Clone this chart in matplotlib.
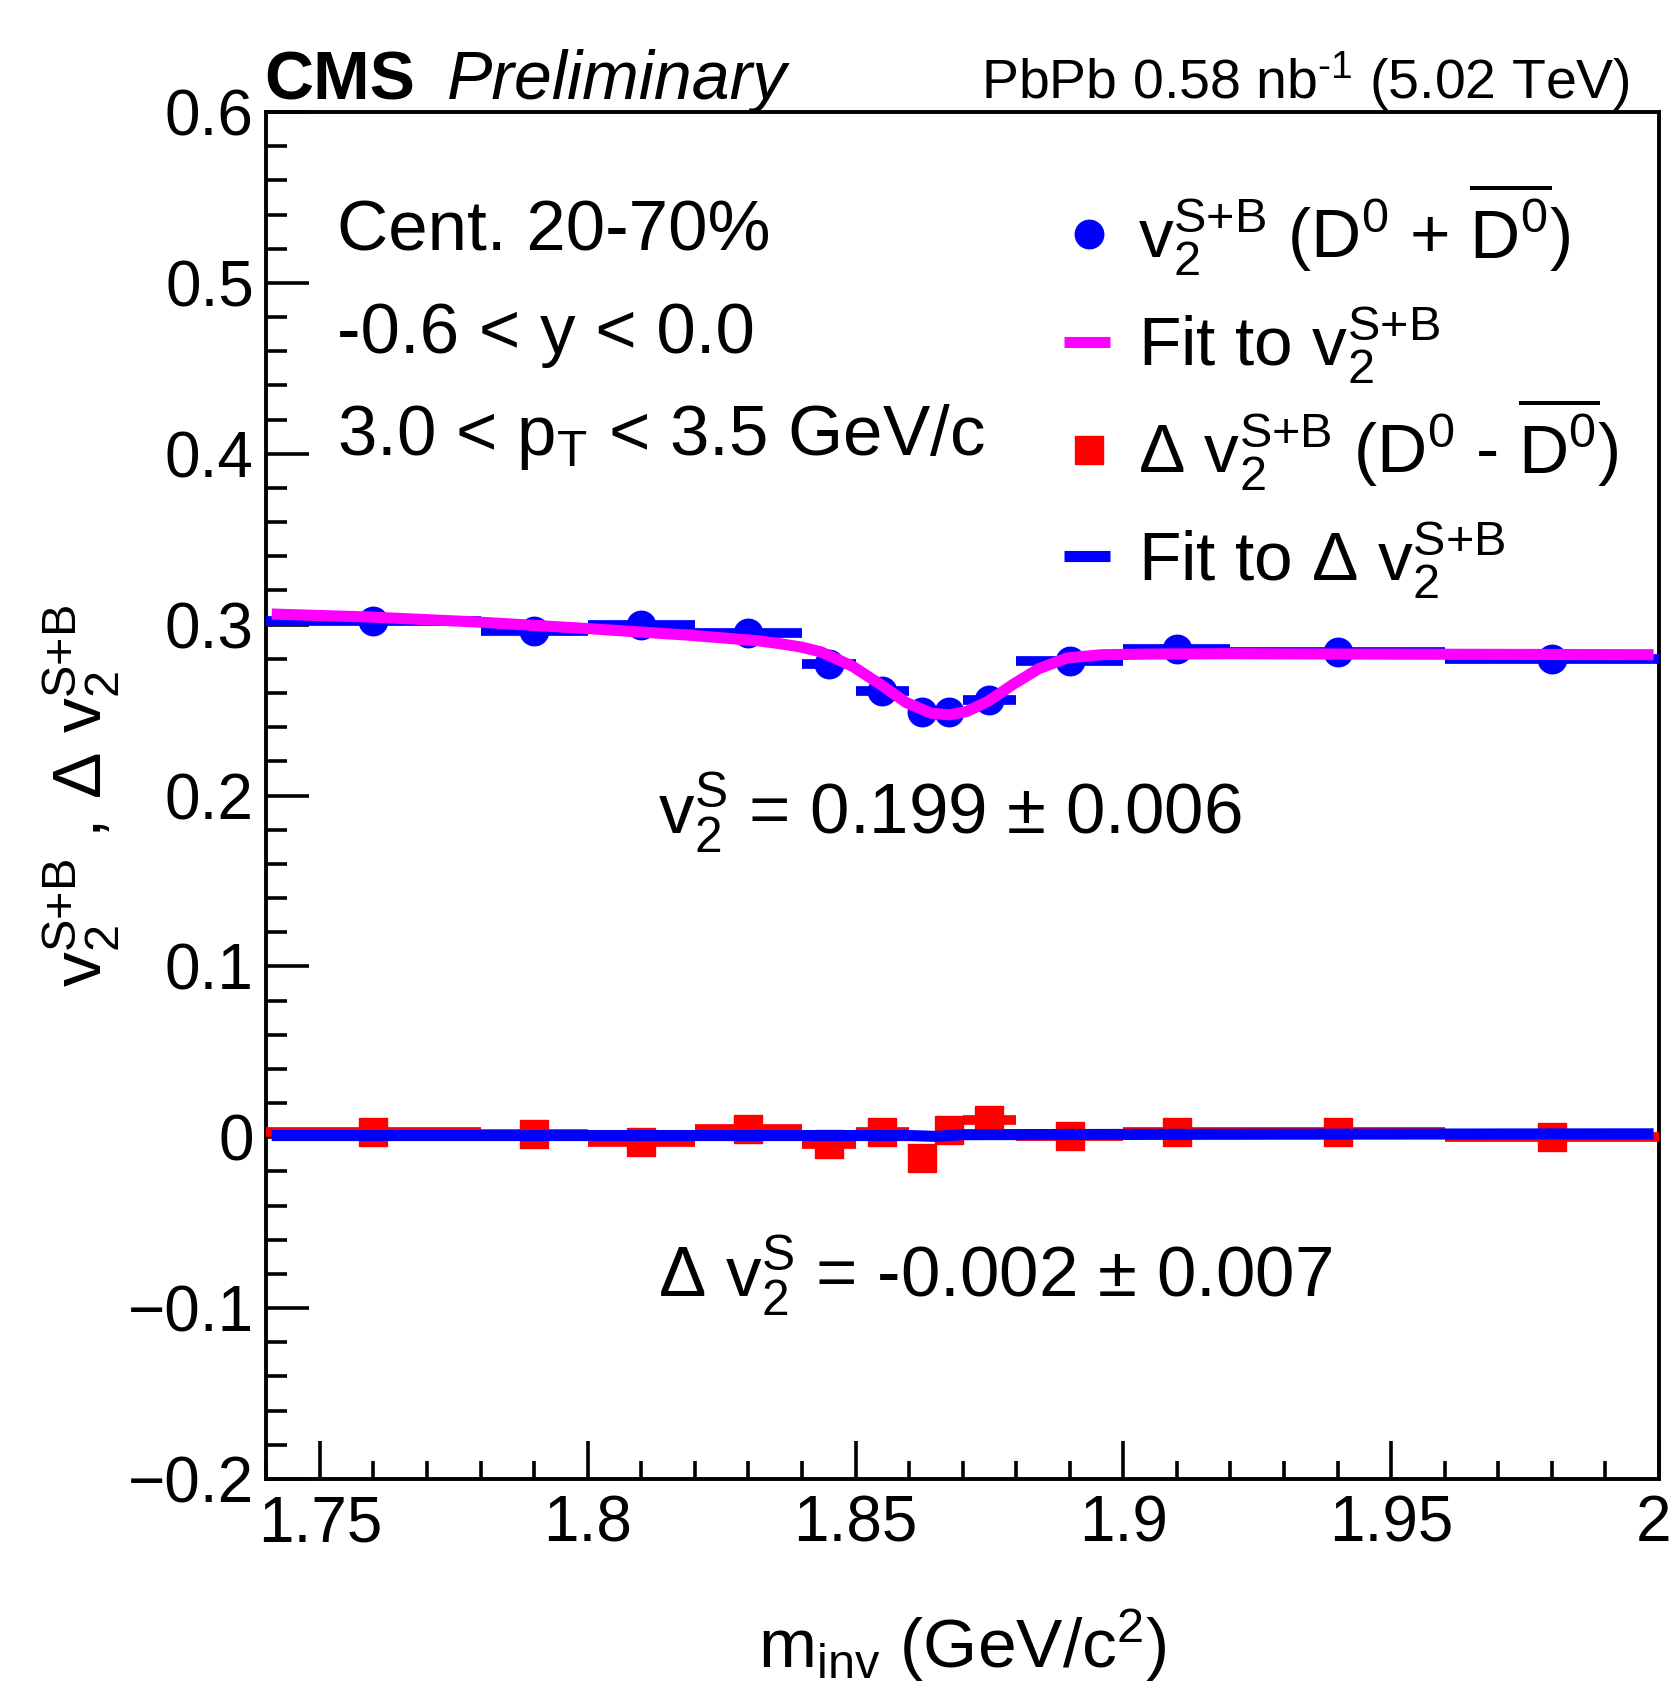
import matplotlib
matplotlib.use('Agg')
import matplotlib.pyplot as plt
from matplotlib.ticker import MultipleLocator
from matplotlib.transforms import ScaledTranslation

plt.rcParams['font.family'] = ['Liberation Sans', 'DejaVu Sans']
plt.rcParams['mathtext.fontset'] = 'custom'
plt.rcParams['mathtext.rm'] = 'Liberation Sans'
plt.rcParams['mathtext.it'] = 'Liberation Sans'
plt.rcParams['mathtext.bf'] = 'Liberation Sans:bold'
plt.rcParams['mathtext.default'] = 'regular'

# ---------------- data ----------------
mass = [1.76, 1.79, 1.81, 1.83, 1.845, 1.855, 1.8625, 1.8675, 1.875, 1.89, 1.91, 1.94, 1.98]
bin_lo = [1.74, 1.78, 1.80, 1.82, 1.84, 1.85, 1.86, 1.865, 1.87, 1.88, 1.90, 1.92, 1.96]
bin_hi = [1.78, 1.80, 1.82, 1.84, 1.85, 1.86, 1.865, 1.87, 1.88, 1.90, 1.92, 1.96, 2.00]
v2_sb = [0.302, 0.2965, 0.300, 0.295, 0.277, 0.261, 0.249, 0.249, 0.256, 0.279, 0.286, 0.284, 0.280]
dv2_sb = [0.003, 0.002, -0.003, 0.005, -0.004, 0.003, -0.012, 0.004, 0.010, 0.001, 0.003, 0.003, 0.000]

fit_mass = [1.741, 1.759, 1.779, 1.799, 1.819, 1.832, 1.836, 1.840, 1.8436, 1.8494, 1.8548,
            1.8594, 1.8641, 1.8675, 1.8708, 1.8748, 1.8795, 1.8842, 1.8895, 1.896, 1.906,
            1.92, 1.94, 1.97, 1.999]
fit_v2 = [0.3062, 0.3045, 0.3016, 0.2979, 0.2938, 0.2905, 0.2888, 0.2868, 0.2840, 0.2757, 0.2647,
          0.2545, 0.2482, 0.2472, 0.2492, 0.2552, 0.2652, 0.2742, 0.2805, 0.2824, 0.2828,
          0.2830, 0.2828, 0.2826, 0.2824]
fit_dmass = [1.741, 1.80, 1.86, 1.865, 1.87, 1.93, 1.999]
fit_dv2 = [0.0010, 0.0010, 0.0010, 0.0005, 0.0015, 0.0018, 0.0020]

xtick_vals = [1.75, 1.80, 1.85, 1.90, 1.95, 2.00]
xtick_labels = ['1.75', '1.8', '1.85', '1.9', '1.95', '2']
ytick_vals = [-0.2, -0.1, 0.0, 0.1, 0.2, 0.3, 0.4, 0.5, 0.6]
ytick_labels = ['\u22120.2', '\u22120.1', '0', '0.1', '0.2', '0.3', '0.4', '0.5', '0.6']

# ---------------- figure ----------------
fig = plt.figure(figsize=(16.72, 16.87), dpi=100)
ax = fig.add_axes([0.1593, 0.1233, 0.8329, 0.8103])

BLUE = '#0000ff'
RED = '#ff0000'
MAG = '#ff00ff'

xerr_lo = [m - lo for m, lo in zip(mass, bin_lo)]
xerr_hi = [hi - m for m, hi in zip(mass, bin_hi)]

ax.errorbar(mass, v2_sb, xerr=[xerr_lo, xerr_hi], fmt='o', color=BLUE, ms=20.5,
            elinewidth=7, capsize=0, zorder=3)
ax.errorbar(mass, dv2_sb, xerr=[xerr_lo, xerr_hi], fmt='s', color=RED, ms=20.5,
            elinewidth=7, capsize=0, zorder=3)
ax.plot(fit_mass, fit_v2, color=MAG, lw=8, zorder=4, solid_capstyle='butt')
ax.plot(fit_dmass, fit_dv2, color=BLUE, lw=8, zorder=4, solid_capstyle='butt')

ax.set_xlim(1.74, 2.0)
ax.set_ylim(-0.2, 0.6)

ax.set_xticks(xtick_vals, xtick_labels)
ax.set_yticks(ytick_vals, ytick_labels)
ax.xaxis.set_minor_locator(MultipleLocator(0.01))
ax.yaxis.set_minor_locator(MultipleLocator(0.02))
ax.tick_params(axis='both', which='both', direction='in', top=False, right=False,
               width=2.6, labelsize=46)
ax.tick_params(axis='y', which='major', length=31, pad=9)
ax.tick_params(axis='y', which='minor', length=15)
ax.tick_params(axis='x', which='major', length=27.5, pad=11)
ax.tick_params(axis='x', which='minor', length=13)
for sp in ax.spines.values():
    sp.set_linewidth(2.8)

# keep the last x tick label ("2") inside the canvas
last = ax.get_xticklabels()[-1]
last.set_transform(last.get_transform() + ScaledTranslation(-0.05, 0, fig.dpi_scale_trans))

ax.set_xlabel(r'm$_{\text{inv}}$ (GeV/c$^{2}$)', fontsize=50)
ax.xaxis.set_label_coords(0.5, -0.1383)
ax.xaxis.label.set_va('baseline')
ax.set_ylabel(r'v$_{2}^{\text{S+B}}$ , Δ v$_{2}^{\text{S+B}}$', fontsize=50)
ax.yaxis.set_label_coords(-0.118, 0.5)
ax.yaxis.label.set_va('baseline')

# header
fig.text(0.158, 0.9413, 'CMS', fontsize=49, fontweight='bold', va='baseline')
fig.text(0.2673, 0.9413, 'Preliminary', fontsize=49, style='italic', va='baseline')
fig.text(0.975, 0.9413, r'PbPb 0.58 nb$^{\text{-1}}$ (5.02 TeV)', fontsize=40,
         ha='right', va='baseline')

# kinematic text
tk = dict(transform=ax.transAxes, fontsize=51, va='baseline')
ax.text(0.0507, 0.899, 'Cent. 20-70%', **tk)
ax.text(0.0507, 0.8237, '-0.6 < y < 0.0', **tk)
ax.text(0.0507, 0.749, r'3.0 < p$_{\text{T}}$ < 3.5 GeV/c', **tk)

ax.text(0.2812, 0.4718, r'v$_{2}^{\text{S}}$ = 0.199 ± 0.006', **tk)
ax.text(0.2812, 0.1334, r'Δ v$_{2}^{\text{S}}$ = -0.002 ± 0.007', **tk)

# legend (drawn manually)
tl = dict(transform=ax.transAxes, fontsize=50, va='baseline')
lx_m, lx0, lx1, lx_t = 0.591, 0.573, 0.606, 0.626
ax.plot([lx_m], [0.911], 'o', color=BLUE, ms=20.5, transform=ax.transAxes, clip_on=False)
ax.plot([lx0, lx1], [0.832, 0.832], color=MAG, lw=8, transform=ax.transAxes,
        solid_capstyle='butt')
ax.plot([lx_m], [0.753], 's', color=RED, ms=20.5, transform=ax.transAxes, clip_on=False)
ax.plot([lx0, lx1], [0.675, 0.675], color=BLUE, lw=8, transform=ax.transAxes,
        solid_capstyle='butt')
ax.text(lx_t, 0.893, r'v$_{2}^{\text{S+B}}$ (D$^{0}$ + $\overline{\text{D}^{0}}$)', **tl)
ax.text(lx_t, 0.814, r'Fit to v$_{2}^{\text{S+B}}$', **tl)
ax.text(lx_t, 0.736, r'Δ v$_{2}^{\text{S+B}}$ (D$^{0}$ - $\overline{\text{D}^{0}}$)', **tl)
ax.text(lx_t, 0.657, r'Fit to Δ v$_{2}^{\text{S+B}}$', **tl)

fig.savefig('out.png', dpi=100)
